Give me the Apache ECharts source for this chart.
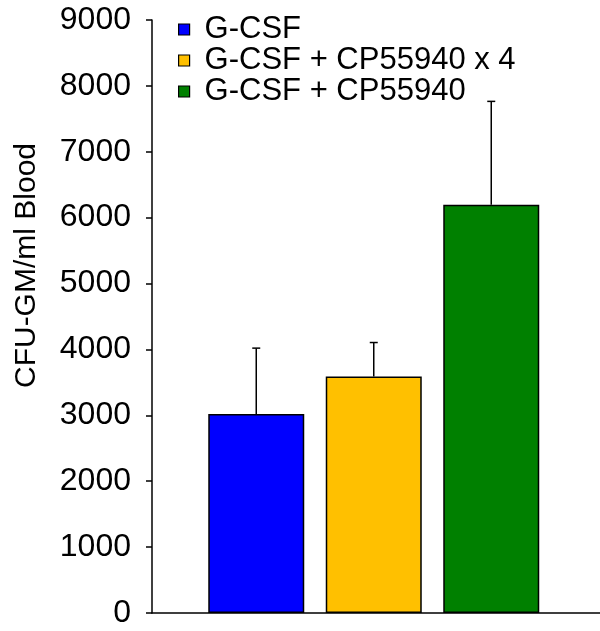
<!DOCTYPE html>
<html>
<head>
<meta charset="utf-8">
<script src="https://cdn.jsdelivr.net/npm/echarts@6/dist/echarts.min.js"></script>
<style>
  html, body { margin: 0; padding: 0; background: #fff; }
  #chart { width: 600px; height: 631px; }
</style>
</head>
<body>
<div id="chart"></div>
<script>
// Treatment groups, mean CFU-GM per ml blood and upper error limits
const groups = ['G-CSF', 'G-CSF + CP55940 x 4', 'G-CSF + CP55940'];
const means = [3020, 3590, 6195];
const upperErr = [4020, 4105, 7765];
const colors = ['#0000FF', '#FFC000', '#008000'];
const yTicks = [0, 1000, 2000, 3000, 4000, 5000, 6000, 7000, 8000, 9000];
const yTitle = 'CFU-GM/ml Blood';

const font = '"Liberation Sans", Arial, sans-serif';

// one bar series per group, each occupying its own slot on the hidden axis
const barSeries = groups.map((name, i) => ({
  name: name,
  type: 'bar',
  xAxisIndex: 1,
  yAxisIndex: 1,
  barWidth: 96,
  barGap: '-100%',
  itemStyle: { color: colors[i], borderColor: '#000', borderWidth: 1.5 },
  data: groups.map((g, j) => (j === i ? means[i] : '-')),
  z: 2
}));

// upward-only error bars with a short cap
const errSeries = {
  type: 'custom',
  xAxisIndex: 1,
  yAxisIndex: 1,
  z: 1,
  data: means.map((m, i) => [i, m, upperErr[i]]),
  renderItem: function (params, api) {
    const base = api.coord([api.value(0), api.value(1)]);
    const top = api.coord([api.value(0), api.value(2)]);
    const half = 4;
    return {
      type: 'group',
      children: [
        { type: 'line', shape: { x1: base[0], y1: base[1], x2: top[0], y2: top[1] },
          style: { stroke: '#000', lineWidth: 1.5 } },
        { type: 'line', shape: { x1: top[0] - half, y1: top[1], x2: top[0] + half, y2: top[1] },
          style: { stroke: '#000', lineWidth: 1.5 } }
      ]
    };
  }
};

const chart = echarts.init(document.getElementById('chart'));
chart.setOption({
  animation: false,
  backgroundColor: '#fff',
  textStyle: { fontFamily: font },
  legend: {
    data: groups,
    orient: 'vertical',
    left: 178,
    top: 14,
    padding: 0,
    itemWidth: 11,
    itemHeight: 11,
    itemGap: 0,
    icon: 'rect',
    itemStyle: { borderColor: '#000', borderWidth: 1.2 },
    textStyle: { fontFamily: font, fontSize: 31, color: '#000', lineHeight: 27, padding: [0, 0, 0, 10] }
  },
  // rotated axis title, centred on the upper part of the value axis
  graphic: [{
    type: 'text',
    left: 12,
    top: 143,
    rotation: Math.PI / 2,
    style: { text: yTitle, font: '30px ' + font, fill: '#000' }
  }],
  grid: [
    { left: 152, right: 0, top: 20, bottom: 18 },
    { left: 197.5, right: 50, top: 20, bottom: 18 }
  ],
  xAxis: [
    {
      gridIndex: 0, type: 'category', data: [''],
      axisLine: { lineStyle: { color: '#000', width: 1.5 } },
      axisTick: { show: false }, axisLabel: { show: false }
    },
    {
      gridIndex: 1, type: 'category', data: groups,
      axisLine: { show: false }, axisTick: { show: false }, axisLabel: { show: false }
    }
  ],
  yAxis: [
    {
      gridIndex: 0, type: 'value', min: 0, max: 9000, interval: 1000,
      axisLine: { show: true, lineStyle: { color: '#000', width: 1.5 } },
      axisTick: { show: true, inside: false, length: 6, lineStyle: { color: '#000', width: 1.5 } },
      axisLabel: {
        margin: 21, fontFamily: font, fontSize: 32, color: '#000',
        formatter: v => (yTicks.indexOf(v) >= 0 ? String(v) : '')
      },
      splitLine: { show: false }
    },
    {
      gridIndex: 1, type: 'value', min: 0, max: 9000, interval: 1000,
      axisLine: { show: false }, axisTick: { show: false }, axisLabel: { show: false },
      splitLine: { show: false }
    }
  ],
  series: barSeries.concat([errSeries])
});
</script>
</body>
</html>
